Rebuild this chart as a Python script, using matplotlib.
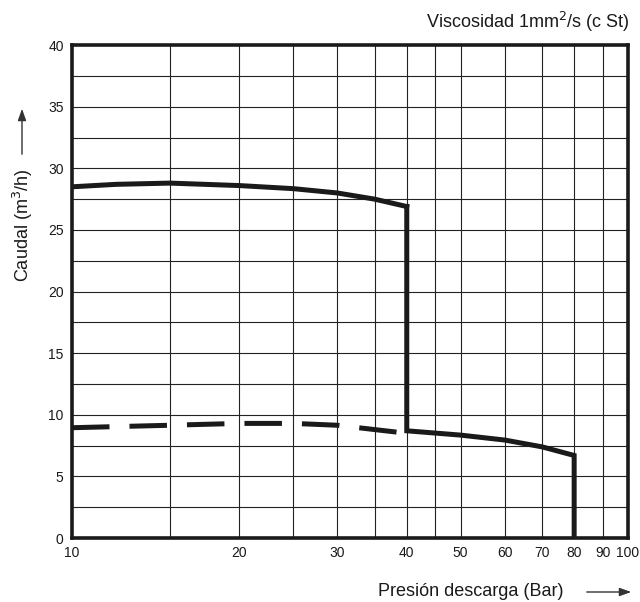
import numpy as np
import matplotlib.pyplot as plt
from matplotlib.patches import FancyArrowPatch

plt.rcParams['font.family'] = ['Liberation Sans', 'DejaVu Sans']

# Curva superior (trazo continuo) hasta 40 bar
p_alta = [10, 12, 15, 20, 25, 30, 35, 40]
q_alta = [28.5, 28.7, 28.8, 28.6, 28.35, 28.0, 27.5, 26.9]

# Curva inferior (trazo continuo) de 40 a 80 bar
p_baja = [40, 40, 50, 60, 70, 80, 80]
q_baja = [26.9, 8.7, 8.35, 7.95, 7.4, 6.7, 0]

# Curva discontinua
p_disc = [10, 15, 20, 25, 30, 35, 40]
q_disc = [8.95, 9.15, 9.3, 9.3, 9.15, 8.8, 8.5]

x_ticks = [10, 20, 30, 40, 50, 60, 70, 80, 90, 100]
x_grid = [15, 20, 25, 30, 35, 40, 45, 50, 60, 70, 80, 90]
y_ticks = [0, 5, 10, 15, 20, 25, 30, 35, 40]

fig = plt.figure(figsize=(6.4, 6.02), dpi=100)
ax = fig.add_axes([0.1125, 0.1063, 0.8688, 0.8188])

ax.set_xscale('log')
ax.set_xlim(10, 100)
ax.set_ylim(0, 40)

# Rejilla
for x in x_grid:
    ax.axvline(x, color='#222222', lw=0.8, zorder=1)
for y in np.arange(2.5, 40, 2.5):
    ax.axhline(y, color='#222222', lw=0.8, zorder=1)

ax.plot(p_alta, q_alta, color='#1a1a1a', lw=3.6, solid_joinstyle='miter', zorder=3)
ax.plot(p_baja, q_baja, color='#1a1a1a', lw=3.6, solid_joinstyle='miter', zorder=3)
ax.plot(p_disc, q_disc, color='#1a1a1a', lw=3.6, dashes=(7.5, 4), zorder=3)

ax.set_xticks(x_ticks)
ax.set_xticklabels([str(t) for t in x_ticks])
ax.set_xticks([], minor=True)
ax.set_yticks(y_ticks)
ax.tick_params(length=0, labelsize=10, pad=6, colors='#1a1a1a')

for s in ax.spines.values():
    s.set_linewidth(2.6)
    s.set_color('#1a1a1a')

# Textos
fig.text(630 / 640, 1 - 22 / 602, r'Viscosidad 1mm$^{2}$/s (c St)', ha='right', va='center',
         fontsize=13, color='#1a1a1a')
fig.text(23 / 640, 1 - 225 / 602, r'Caudal (m$^{3}$/h)', rotation=90, ha='center', va='center',
         fontsize=13, color='#1a1a1a')
fig.text(564 / 640, 1 - 592 / 602, 'Presión descarga (Bar)', ha='right', va='center',
         fontsize=13, color='#1a1a1a')

# Flechas
fig.patches.append(FancyArrowPatch(
    (22 / 640, 1 - 157 / 602), (22 / 640, 1 - 106 / 602), transform=fig.transFigure,
    arrowstyle='-|>,head_length=7,head_width=2.5', color='#333333', lw=1))
fig.patches.append(FancyArrowPatch(
    (584 / 640, 1 - 592 / 602), (634 / 640, 1 - 592 / 602), transform=fig.transFigure,
    arrowstyle='-|>,head_length=7,head_width=2.5', color='#333333', lw=1))

fig.savefig('out.png', dpi=100)
